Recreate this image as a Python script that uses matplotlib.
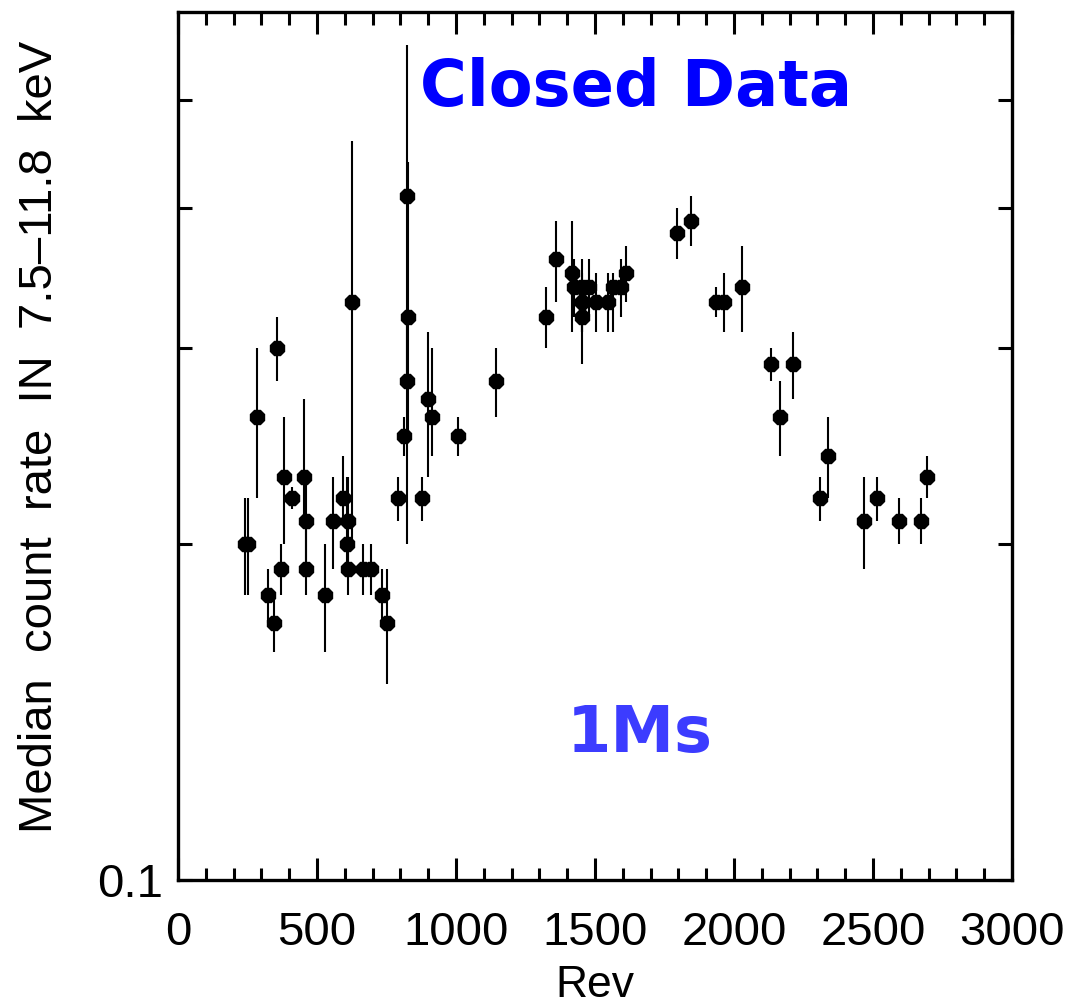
import matplotlib as mpl
mpl.use('Agg')
import matplotlib.pyplot as plt
from matplotlib.ticker import MultipleLocator, FixedLocator, FixedFormatter, NullFormatter
import numpy as np

# Rev, median rate, upper and lower end of the error bar
rev = [240, 251, 283, 323, 344, 355, 369, 380, 409, 455, 459, 459, 530, 556,
       595, 609, 613, 613, 627, 667, 695, 735, 753, 792, 814, 824, 824, 828,
       878, 900, 914, 1007, 1143, 1322, 1358, 1416, 1426, 1455, 1455, 1455,
       1477, 1505, 1545, 1563, 1595, 1613, 1796, 1846, 1935, 1964, 2029, 2133,
       2165, 2211, 2308, 2337, 2469, 2516, 2595, 2674, 2695]
rate = [0.20, 0.20, 0.26, 0.18, 0.17, 0.30, 0.19, 0.23, 0.22, 0.23, 0.21, 0.19,
        0.18, 0.21, 0.22, 0.20, 0.21, 0.19, 0.33, 0.19, 0.19, 0.18, 0.17, 0.22,
        0.25, 0.28, 0.41, 0.32, 0.22, 0.27, 0.26, 0.25, 0.28, 0.32, 0.36, 0.35,
        0.34, 0.34, 0.33, 0.32, 0.34, 0.33, 0.33, 0.34, 0.34, 0.35, 0.38, 0.39,
        0.33, 0.33, 0.34, 0.29, 0.26, 0.29, 0.22, 0.24, 0.21, 0.22, 0.21, 0.21,
        0.23]
rate_hi = [0.22, 0.22, 0.30, 0.19, 0.18, 0.32, 0.20, 0.26, 0.225, 0.27, 0.23, 0.21,
           0.20, 0.23, 0.24, 0.23, 0.23, 0.20, 0.46, 0.20, 0.20, 0.19, 0.19, 0.23,
           0.26, 0.32, 0.56, 0.44, 0.23, 0.31, 0.30, 0.26, 0.30, 0.34, 0.39, 0.39,
           0.36, 0.36, 0.35, 0.34, 0.36, 0.35, 0.35, 0.35, 0.36, 0.37, 0.40, 0.41,
           0.34, 0.35, 0.37, 0.30, 0.28, 0.31, 0.23, 0.26, 0.23, 0.23, 0.22, 0.22,
           0.24]
rate_lo = [0.18, 0.18, 0.22, 0.17, 0.16, 0.28, 0.18, 0.20, 0.215, 0.21, 0.19, 0.18,
           0.16, 0.19, 0.21, 0.19, 0.19, 0.18, 0.20, 0.18, 0.18, 0.17, 0.15, 0.21,
           0.24, 0.20, 0.28, 0.25, 0.21, 0.23, 0.24, 0.24, 0.26, 0.30, 0.33, 0.31,
           0.32, 0.31, 0.31, 0.29, 0.32, 0.31, 0.31, 0.31, 0.32, 0.33, 0.36, 0.37,
           0.32, 0.31, 0.31, 0.28, 0.24, 0.27, 0.21, 0.22, 0.19, 0.21, 0.20, 0.20,
           0.22]

rate = np.array(rate)
yerr = [rate - np.array(rate_lo), np.array(rate_hi) - rate]

plt.rcParams['font.family'] = ['Liberation Sans', 'DejaVu Sans']

fig = plt.figure(figsize=(10.74, 10.08), dpi=100)
ax = fig.add_axes([178/1074, 1 - 880/1008, (1012-178)/1074, (880-12)/1008])

ax.errorbar(rev, rate, yerr=yerr, fmt='8', color='k', ms=11,
            elinewidth=1.5, capsize=0)

ax.set_yscale('log')
ax.set_ylim(0.1, 0.6)
ax.set_xlim(0, 3000)

ax.xaxis.set_major_locator(MultipleLocator(500))
ax.xaxis.set_minor_locator(MultipleLocator(100))
ax.yaxis.set_major_locator(FixedLocator([0.1]))
ax.yaxis.set_major_formatter(FixedFormatter(['0.1']))
ax.yaxis.set_minor_locator(FixedLocator([0.2, 0.3, 0.4, 0.5]))
ax.yaxis.set_minor_formatter(NullFormatter())

ax.tick_params(which='both', direction='in', top=True, right=True, width=2.2,
               labelsize=34)
ax.tick_params(axis='x', which='both', pad=22)
ax.tick_params(axis='y', which='both', pad=11)
ax.tick_params(axis='x', which='major', length=16)
ax.tick_params(axis='x', which='minor', length=9)
ax.tick_params(axis='y', which='both', length=10)
for s in ax.spines.values():
    s.set_linewidth(2.4)

ax.set_xlabel('Rev', fontsize=32)
ax.xaxis.set_label_coords(0.5, -0.098)
ax.set_ylabel('Median  count  rate  IN  7.5\u201311.8  keV', fontsize=34)
ax.yaxis.set_label_coords(-0.139, 0.51)

ax.text(0.549, 0.892, 'Closed Data', transform=ax.transAxes, ha='center',
        va='baseline', fontsize=46, fontweight='bold', color='#0000ff',
        family=['DejaVu Sans'])
ax.text(0.554, 0.1475, '1Ms', transform=ax.transAxes, ha='center',
        va='baseline', fontsize=46, fontweight='bold', color='#3c3cff',
        family=['DejaVu Sans'])

plt.savefig('out.png', dpi=100)
plt.close()
